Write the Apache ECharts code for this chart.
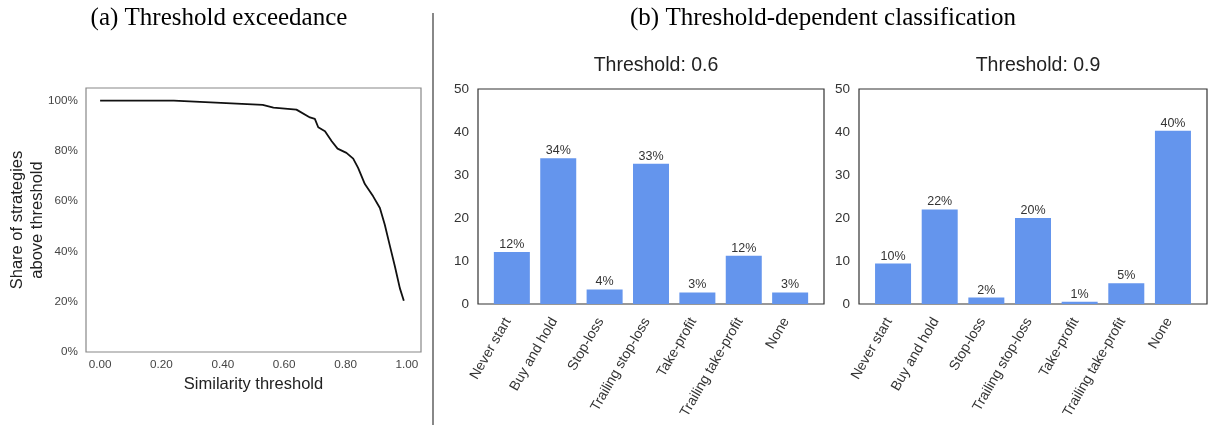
<!DOCTYPE html>
<html>
<head>
<meta charset="utf-8">
<script src="https://cdn.jsdelivr.net/npm/echarts@6/dist/echarts.min.js"></script>
<style>
html,body{margin:0;padding:0;background:#fff;}
#chart{width:1208px;height:425px;}
</style>
</head>
<body>
<div id="chart"></div>
<script>
// Panel (a): threshold exceedance curve
const simThreshold = [0.00, 0.24, 0.36, 0.445, 0.53, 0.565, 0.64, 0.684, 0.70, 0.711, 0.733, 0.755, 0.774, 0.803, 0.825, 0.841, 0.863, 0.89, 0.912, 0.928, 0.945, 0.961, 0.977, 0.99];
const shareAbove   = [100, 100, 99.3, 98.8, 98.3, 97.2, 96.4, 93.3, 92.7, 89.4, 87.8, 83.8, 80.9, 79.2, 76.9, 73.2, 66.8, 61.9, 57.3, 50.6, 42.0, 34.0, 25.4, 20.4];
const xTicksA = [0, 0.2, 0.4, 0.6, 0.8, 1.0];
const yTicksA = [0, 20, 40, 60, 80, 100];

// Panel (b): classification
const categories = ["Never start", "Buy and hold", "Stop-loss", "Trailing stop-loss", "Take-profit", "Trailing take-profit", "None"];
const values06 = [12.1, 33.9, 3.4, 32.6, 2.7, 11.2, 2.7];
const labels06 = ["12%", "34%", "4%", "33%", "3%", "12%", "3%"];
const values09 = [9.4, 22.0, 1.5, 20.0, 0.5, 4.8, 40.3];
const labels09 = ["10%", "22%", "2%", "20%", "1%", "5%", "40%"];
const yTicksB = [0, 10, 20, 30, 40, 50];

const SANS = "Liberation Sans, Arial, sans-serif";
const SERIF = "Liberation Serif, Times New Roman, serif";

const chart = echarts.init(document.getElementById('chart'));

function barX(gridIndex) {
  return {
    type: 'value', gridIndex: gridIndex, min: -0.73, max: 6.73,
    axisLine: {show: false}, axisTick: {show: false}, splitLine: {show: false},
    axisLabel: {
      customValues: categories.map((c, i) => i),
      formatter: v => categories[Math.round(v)] || '',
      rotate: 60, fontFamily: SANS, fontSize: 14, color: '#333', margin: 8,
      padding: [0, 8, 0, 0]
    }
  };
}
function barY(gridIndex) {
  return {
    type: 'value', gridIndex: gridIndex, min: 0, max: 50, interval: 10,
    axisLine: {show: false}, axisTick: {show: false}, splitLine: {show: false},
    axisLabel: {customValues: yTicksB, fontFamily: SANS, fontSize: 13.5, color: '#333', margin: 9}
  };
}
function barSeries(idx, values, labels) {
  return {
    type: 'bar', xAxisIndex: idx, yAxisIndex: idx,
    data: values.map((v, i) => [i, v]),
    barWidth: 36,
    itemStyle: {color: '#6495ED'},
    label: {
      show: true, position: 'top', distance: 1,
      formatter: p => labels[p.dataIndex],
      fontFamily: SANS, fontSize: 12.5, color: '#333'
    },
    silent: true
  };
}

chart.setOption({
  animation: false,
  backgroundColor: '#ffffff',
  title: [
    {text: '(a) Threshold exceedance', left: 214, top: 1, textAlign: 'center',
     textStyle: {fontFamily: SERIF, fontSize: 25, fontWeight: 'normal', color: '#000'}},
    {text: '(b) Threshold-dependent classification', left: 818, top: 1, textAlign: 'center',
     textStyle: {fontFamily: SERIF, fontSize: 25, fontWeight: 'normal', color: '#000'}},
    {text: 'Threshold: 0.6', left: 651, top: 51, textAlign: 'center',
     textStyle: {fontFamily: SANS, fontSize: 19.5, fontWeight: 'normal', color: '#222'}},
    {text: 'Threshold: 0.9', left: 1033, top: 51, textAlign: 'center',
     textStyle: {fontFamily: SANS, fontSize: 19.5, fontWeight: 'normal', color: '#222'}}
  ],
  grid: [
    {left: 86, top: 88, width: 335, height: 264, show: true, borderColor: '#888', borderWidth: 1.2, backgroundColor: '#fff', containLabel: false},
    {left: 478, top: 89, width: 346, height: 215, show: true, borderColor: '#333', borderWidth: 1.2, backgroundColor: '#fff', containLabel: false},
    {left: 859, top: 89, width: 348, height: 215, show: true, borderColor: '#333', borderWidth: 1.2, backgroundColor: '#fff', containLabel: false}
  ],
  xAxis: [
    {
      type: 'value', gridIndex: 0, min: -0.046, max: 1.046,
      axisLine: {show: false}, axisTick: {show: false}, splitLine: {show: false},
      axisLabel: {customValues: xTicksA, formatter: v => v.toFixed(2), fontFamily: SANS, fontSize: 11.7, color: '#444', margin: 7},
      name: 'Similarity threshold', nameLocation: 'middle', nameGap: 21,
      nameTextStyle: {fontFamily: SANS, fontSize: 16.5, color: '#222'}
    },
    barX(1), barX(2)
  ],
  yAxis: [
    {
      type: 'value', gridIndex: 0, min: 0, max: 105,
      axisLine: {show: false}, axisTick: {show: false}, splitLine: {show: false},
      axisLabel: {customValues: yTicksA, formatter: v => v + '%', fontFamily: SANS, fontSize: 11.7, color: '#444', margin: 8},
      name: 'Share of strategies\nabove threshold', nameLocation: 'middle', nameGap: 39, nameRotate: 90,
      nameMoveOverlap: false,
      nameTextStyle: {fontFamily: SANS, fontSize: 16.5, color: '#222', lineHeight: 20}
    },
    barY(1), barY(2)
  ],
  series: [
    {
      type: 'line', xAxisIndex: 0, yAxisIndex: 0,
      data: simThreshold.map((x, i) => [x, shareAbove[i]]),
      showSymbol: false, smooth: false,
      lineStyle: {color: '#111', width: 1.8}, silent: true
    },
    barSeries(1, values06, labels06),
    barSeries(2, values09, labels09)
  ],
  graphic: [
    {type: 'line', shape: {x1: 433, y1: 13, x2: 433, y2: 425}, style: {stroke: '#888', lineWidth: 2}}
  ]
});
</script>
</body>
</html>
